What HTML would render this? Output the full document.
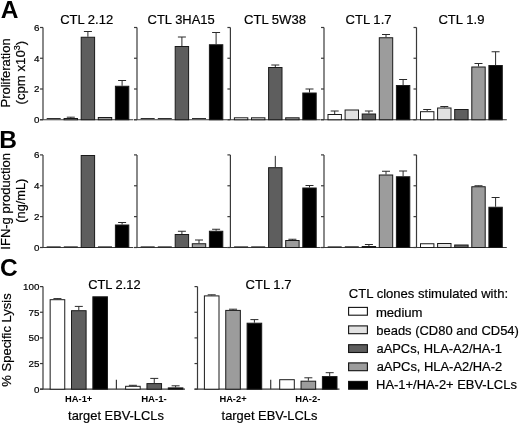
<!DOCTYPE html>
<html><head><meta charset="utf-8"><style>
html,body{margin:0;padding:0;background:#fff;}
svg{display:block;will-change:transform;}
text{font-family:"Liberation Sans", sans-serif;fill:#000;stroke:#000;stroke-width:0.2px;}
text.b{stroke:none;}
</style></head><body>
<svg width="520" height="424" viewBox="0 0 520 424">
<rect width="520" height="424" fill="#fff"/>
<line x1="43.00" y1="27.50" x2="43.00" y2="119.75" stroke="#3a3a3a" stroke-width="1.2"/>
<line x1="40.00" y1="119.75" x2="43.00" y2="119.75" stroke="#3a3a3a" stroke-width="1.2"/>
<line x1="40.00" y1="89.00" x2="43.00" y2="89.00" stroke="#3a3a3a" stroke-width="1.2"/>
<line x1="40.00" y1="58.25" x2="43.00" y2="58.25" stroke="#3a3a3a" stroke-width="1.2"/>
<line x1="40.00" y1="27.50" x2="43.00" y2="27.50" stroke="#3a3a3a" stroke-width="1.2"/>
<line x1="40.00" y1="119.75" x2="133.30" y2="119.75" stroke="#3a3a3a" stroke-width="1.2"/>
<line x1="46.70" y1="118.60" x2="60.70" y2="118.60" stroke="#1a1a1a" stroke-width="1.0"/>
<line x1="70.80" y1="118.00" x2="70.80" y2="117.20" stroke="#2a2a2a" stroke-width="1"/>
<line x1="66.80" y1="117.20" x2="74.80" y2="117.20" stroke="#2a2a2a" stroke-width="1.0"/>
<rect x="64.10" y="118.50" width="13.40" height="1.25" fill="#e2e2e2" stroke="#1a1a1a" stroke-width="1.0"/>
<line x1="87.90" y1="36.75" x2="87.90" y2="31.50" stroke="#2a2a2a" stroke-width="1"/>
<line x1="83.90" y1="31.50" x2="91.90" y2="31.50" stroke="#2a2a2a" stroke-width="1.0"/>
<rect x="81.20" y="37.25" width="13.40" height="82.50" fill="#5e5e5e" stroke="#1a1a1a" stroke-width="1.0"/>
<rect x="98.30" y="117.50" width="13.40" height="2.25" fill="#9c9c9c" stroke="#1a1a1a" stroke-width="1.0"/>
<line x1="122.10" y1="85.75" x2="122.10" y2="80.50" stroke="#2a2a2a" stroke-width="1"/>
<line x1="118.10" y1="80.50" x2="126.10" y2="80.50" stroke="#2a2a2a" stroke-width="1.0"/>
<rect x="115.40" y="86.25" width="13.40" height="33.50" fill="#000000" stroke="#1a1a1a" stroke-width="1.0"/>
<text x="39.40" y="123.15" font-size="9.8" text-anchor="end">0</text>
<text x="39.40" y="92.40" font-size="9.8" text-anchor="end">2</text>
<text x="39.40" y="61.65" font-size="9.8" text-anchor="end">4</text>
<text x="39.40" y="30.90" font-size="9.8" text-anchor="end">6</text>
<line x1="137.00" y1="27.50" x2="137.00" y2="119.75" stroke="#3a3a3a" stroke-width="1.2"/>
<line x1="134.00" y1="119.75" x2="137.00" y2="119.75" stroke="#3a3a3a" stroke-width="1.2"/>
<line x1="134.00" y1="89.00" x2="137.00" y2="89.00" stroke="#3a3a3a" stroke-width="1.2"/>
<line x1="134.00" y1="58.25" x2="137.00" y2="58.25" stroke="#3a3a3a" stroke-width="1.2"/>
<line x1="134.00" y1="27.50" x2="137.00" y2="27.50" stroke="#3a3a3a" stroke-width="1.2"/>
<line x1="134.00" y1="119.75" x2="227.30" y2="119.75" stroke="#3a3a3a" stroke-width="1.2"/>
<line x1="140.70" y1="118.60" x2="154.70" y2="118.60" stroke="#1a1a1a" stroke-width="1.0"/>
<line x1="157.80" y1="118.60" x2="171.80" y2="118.60" stroke="#1a1a1a" stroke-width="1.0"/>
<line x1="181.90" y1="46.00" x2="181.90" y2="37.00" stroke="#2a2a2a" stroke-width="1"/>
<line x1="177.90" y1="37.00" x2="185.90" y2="37.00" stroke="#2a2a2a" stroke-width="1.0"/>
<rect x="175.20" y="46.50" width="13.40" height="73.25" fill="#5e5e5e" stroke="#1a1a1a" stroke-width="1.0"/>
<line x1="192.00" y1="118.60" x2="206.00" y2="118.60" stroke="#1a1a1a" stroke-width="1.0"/>
<line x1="216.10" y1="44.25" x2="216.10" y2="32.50" stroke="#2a2a2a" stroke-width="1"/>
<line x1="212.10" y1="32.50" x2="220.10" y2="32.50" stroke="#2a2a2a" stroke-width="1.0"/>
<rect x="209.40" y="44.75" width="13.40" height="75.00" fill="#000000" stroke="#1a1a1a" stroke-width="1.0"/>
<line x1="230.40" y1="27.50" x2="230.40" y2="119.75" stroke="#3a3a3a" stroke-width="1.2"/>
<line x1="227.40" y1="119.75" x2="230.40" y2="119.75" stroke="#3a3a3a" stroke-width="1.2"/>
<line x1="227.40" y1="89.00" x2="230.40" y2="89.00" stroke="#3a3a3a" stroke-width="1.2"/>
<line x1="227.40" y1="58.25" x2="230.40" y2="58.25" stroke="#3a3a3a" stroke-width="1.2"/>
<line x1="227.40" y1="27.50" x2="230.40" y2="27.50" stroke="#3a3a3a" stroke-width="1.2"/>
<line x1="227.40" y1="119.75" x2="320.70" y2="119.75" stroke="#3a3a3a" stroke-width="1.2"/>
<rect x="234.40" y="117.80" width="13.40" height="1.95" fill="#ffffff" stroke="#1a1a1a" stroke-width="1.0"/>
<rect x="251.50" y="117.80" width="13.40" height="1.95" fill="#e2e2e2" stroke="#1a1a1a" stroke-width="1.0"/>
<line x1="275.30" y1="67.00" x2="275.30" y2="65.00" stroke="#2a2a2a" stroke-width="1"/>
<line x1="271.30" y1="65.00" x2="279.30" y2="65.00" stroke="#2a2a2a" stroke-width="1.0"/>
<rect x="268.60" y="67.50" width="13.40" height="52.25" fill="#5e5e5e" stroke="#1a1a1a" stroke-width="1.0"/>
<rect x="285.70" y="117.80" width="13.40" height="1.95" fill="#9c9c9c" stroke="#1a1a1a" stroke-width="1.0"/>
<line x1="309.50" y1="92.50" x2="309.50" y2="89.00" stroke="#2a2a2a" stroke-width="1"/>
<line x1="305.50" y1="89.00" x2="313.50" y2="89.00" stroke="#2a2a2a" stroke-width="1.0"/>
<rect x="302.80" y="93.00" width="13.40" height="26.75" fill="#000000" stroke="#1a1a1a" stroke-width="1.0"/>
<line x1="324.00" y1="27.50" x2="324.00" y2="119.75" stroke="#3a3a3a" stroke-width="1.2"/>
<line x1="321.00" y1="119.75" x2="324.00" y2="119.75" stroke="#3a3a3a" stroke-width="1.2"/>
<line x1="321.00" y1="89.00" x2="324.00" y2="89.00" stroke="#3a3a3a" stroke-width="1.2"/>
<line x1="321.00" y1="58.25" x2="324.00" y2="58.25" stroke="#3a3a3a" stroke-width="1.2"/>
<line x1="321.00" y1="27.50" x2="324.00" y2="27.50" stroke="#3a3a3a" stroke-width="1.2"/>
<line x1="321.00" y1="119.75" x2="414.30" y2="119.75" stroke="#3a3a3a" stroke-width="1.2"/>
<line x1="334.70" y1="114.00" x2="334.70" y2="111.00" stroke="#2a2a2a" stroke-width="1"/>
<line x1="330.70" y1="111.00" x2="338.70" y2="111.00" stroke="#2a2a2a" stroke-width="1.0"/>
<rect x="328.00" y="114.50" width="13.40" height="5.25" fill="#ffffff" stroke="#1a1a1a" stroke-width="1.0"/>
<rect x="345.10" y="110.00" width="13.40" height="9.75" fill="#e2e2e2" stroke="#1a1a1a" stroke-width="1.0"/>
<line x1="368.90" y1="113.50" x2="368.90" y2="111.00" stroke="#2a2a2a" stroke-width="1"/>
<line x1="364.90" y1="111.00" x2="372.90" y2="111.00" stroke="#2a2a2a" stroke-width="1.0"/>
<rect x="362.20" y="114.00" width="13.40" height="5.75" fill="#5e5e5e" stroke="#1a1a1a" stroke-width="1.0"/>
<line x1="386.00" y1="37.25" x2="386.00" y2="34.50" stroke="#2a2a2a" stroke-width="1"/>
<line x1="382.00" y1="34.50" x2="390.00" y2="34.50" stroke="#2a2a2a" stroke-width="1.0"/>
<rect x="379.30" y="37.75" width="13.40" height="82.00" fill="#9c9c9c" stroke="#1a1a1a" stroke-width="1.0"/>
<line x1="403.10" y1="85.00" x2="403.10" y2="79.50" stroke="#2a2a2a" stroke-width="1"/>
<line x1="399.10" y1="79.50" x2="407.10" y2="79.50" stroke="#2a2a2a" stroke-width="1.0"/>
<rect x="396.40" y="85.50" width="13.40" height="34.25" fill="#000000" stroke="#1a1a1a" stroke-width="1.0"/>
<line x1="416.50" y1="27.50" x2="416.50" y2="119.75" stroke="#3a3a3a" stroke-width="1.2"/>
<line x1="413.50" y1="119.75" x2="416.50" y2="119.75" stroke="#3a3a3a" stroke-width="1.2"/>
<line x1="413.50" y1="89.00" x2="416.50" y2="89.00" stroke="#3a3a3a" stroke-width="1.2"/>
<line x1="413.50" y1="58.25" x2="416.50" y2="58.25" stroke="#3a3a3a" stroke-width="1.2"/>
<line x1="413.50" y1="27.50" x2="416.50" y2="27.50" stroke="#3a3a3a" stroke-width="1.2"/>
<line x1="413.50" y1="119.75" x2="506.80" y2="119.75" stroke="#3a3a3a" stroke-width="1.2"/>
<line x1="427.20" y1="111.20" x2="427.20" y2="109.50" stroke="#2a2a2a" stroke-width="1"/>
<line x1="423.20" y1="109.50" x2="431.20" y2="109.50" stroke="#2a2a2a" stroke-width="1.0"/>
<rect x="420.50" y="111.70" width="13.40" height="8.05" fill="#ffffff" stroke="#1a1a1a" stroke-width="1.0"/>
<line x1="444.30" y1="107.50" x2="444.30" y2="106.50" stroke="#2a2a2a" stroke-width="1"/>
<line x1="440.30" y1="106.50" x2="448.30" y2="106.50" stroke="#2a2a2a" stroke-width="1.0"/>
<rect x="437.60" y="108.00" width="13.40" height="11.75" fill="#e2e2e2" stroke="#1a1a1a" stroke-width="1.0"/>
<rect x="454.70" y="109.50" width="13.40" height="10.25" fill="#5e5e5e" stroke="#1a1a1a" stroke-width="1.0"/>
<line x1="478.50" y1="66.50" x2="478.50" y2="63.50" stroke="#2a2a2a" stroke-width="1"/>
<line x1="474.50" y1="63.50" x2="482.50" y2="63.50" stroke="#2a2a2a" stroke-width="1.0"/>
<rect x="471.80" y="67.00" width="13.40" height="52.75" fill="#9c9c9c" stroke="#1a1a1a" stroke-width="1.0"/>
<line x1="495.60" y1="65.00" x2="495.60" y2="51.75" stroke="#2a2a2a" stroke-width="1"/>
<line x1="491.60" y1="51.75" x2="499.60" y2="51.75" stroke="#2a2a2a" stroke-width="1.0"/>
<rect x="488.90" y="65.50" width="13.40" height="54.25" fill="#000000" stroke="#1a1a1a" stroke-width="1.0"/>
<line x1="43.00" y1="154.90" x2="43.00" y2="247.50" stroke="#3a3a3a" stroke-width="1.2"/>
<line x1="40.00" y1="247.50" x2="43.00" y2="247.50" stroke="#3a3a3a" stroke-width="1.2"/>
<line x1="40.00" y1="216.63" x2="43.00" y2="216.63" stroke="#3a3a3a" stroke-width="1.2"/>
<line x1="40.00" y1="185.77" x2="43.00" y2="185.77" stroke="#3a3a3a" stroke-width="1.2"/>
<line x1="40.00" y1="154.90" x2="43.00" y2="154.90" stroke="#3a3a3a" stroke-width="1.2"/>
<line x1="40.00" y1="247.50" x2="133.30" y2="247.50" stroke="#3a3a3a" stroke-width="1.2"/>
<line x1="46.70" y1="246.90" x2="60.70" y2="246.90" stroke="#1a1a1a" stroke-width="1.0"/>
<line x1="63.80" y1="246.90" x2="77.80" y2="246.90" stroke="#1a1a1a" stroke-width="1.0"/>
<rect x="81.20" y="155.50" width="13.40" height="92.00" fill="#5e5e5e" stroke="#1a1a1a" stroke-width="1.0"/>
<line x1="98.00" y1="246.90" x2="112.00" y2="246.90" stroke="#1a1a1a" stroke-width="1.0"/>
<line x1="122.10" y1="224.50" x2="122.10" y2="222.50" stroke="#2a2a2a" stroke-width="1"/>
<line x1="118.10" y1="222.50" x2="126.10" y2="222.50" stroke="#2a2a2a" stroke-width="1.0"/>
<rect x="115.40" y="225.00" width="13.40" height="22.50" fill="#000000" stroke="#1a1a1a" stroke-width="1.0"/>
<text x="39.40" y="250.90" font-size="9.8" text-anchor="end">0</text>
<text x="39.40" y="220.03" font-size="9.8" text-anchor="end">2</text>
<text x="39.40" y="189.17" font-size="9.8" text-anchor="end">4</text>
<text x="39.40" y="158.30" font-size="9.8" text-anchor="end">6</text>
<line x1="137.00" y1="154.90" x2="137.00" y2="247.50" stroke="#3a3a3a" stroke-width="1.2"/>
<line x1="134.00" y1="247.50" x2="137.00" y2="247.50" stroke="#3a3a3a" stroke-width="1.2"/>
<line x1="134.00" y1="216.63" x2="137.00" y2="216.63" stroke="#3a3a3a" stroke-width="1.2"/>
<line x1="134.00" y1="185.77" x2="137.00" y2="185.77" stroke="#3a3a3a" stroke-width="1.2"/>
<line x1="134.00" y1="154.90" x2="137.00" y2="154.90" stroke="#3a3a3a" stroke-width="1.2"/>
<line x1="134.00" y1="247.50" x2="227.30" y2="247.50" stroke="#3a3a3a" stroke-width="1.2"/>
<line x1="140.70" y1="246.90" x2="154.70" y2="246.90" stroke="#1a1a1a" stroke-width="1.0"/>
<line x1="157.80" y1="246.90" x2="171.80" y2="246.90" stroke="#1a1a1a" stroke-width="1.0"/>
<line x1="181.90" y1="234.00" x2="181.90" y2="231.25" stroke="#2a2a2a" stroke-width="1"/>
<line x1="177.90" y1="231.25" x2="185.90" y2="231.25" stroke="#2a2a2a" stroke-width="1.0"/>
<rect x="175.20" y="234.50" width="13.40" height="13.00" fill="#5e5e5e" stroke="#1a1a1a" stroke-width="1.0"/>
<line x1="199.00" y1="243.25" x2="199.00" y2="240.00" stroke="#2a2a2a" stroke-width="1"/>
<line x1="195.00" y1="240.00" x2="203.00" y2="240.00" stroke="#2a2a2a" stroke-width="1.0"/>
<rect x="192.30" y="243.75" width="13.40" height="3.75" fill="#9c9c9c" stroke="#1a1a1a" stroke-width="1.0"/>
<line x1="216.10" y1="230.75" x2="216.10" y2="229.25" stroke="#2a2a2a" stroke-width="1"/>
<line x1="212.10" y1="229.25" x2="220.10" y2="229.25" stroke="#2a2a2a" stroke-width="1.0"/>
<rect x="209.40" y="231.25" width="13.40" height="16.25" fill="#000000" stroke="#1a1a1a" stroke-width="1.0"/>
<line x1="230.40" y1="154.90" x2="230.40" y2="247.50" stroke="#3a3a3a" stroke-width="1.2"/>
<line x1="227.40" y1="247.50" x2="230.40" y2="247.50" stroke="#3a3a3a" stroke-width="1.2"/>
<line x1="227.40" y1="216.63" x2="230.40" y2="216.63" stroke="#3a3a3a" stroke-width="1.2"/>
<line x1="227.40" y1="185.77" x2="230.40" y2="185.77" stroke="#3a3a3a" stroke-width="1.2"/>
<line x1="227.40" y1="154.90" x2="230.40" y2="154.90" stroke="#3a3a3a" stroke-width="1.2"/>
<line x1="227.40" y1="247.50" x2="320.70" y2="247.50" stroke="#3a3a3a" stroke-width="1.2"/>
<line x1="234.10" y1="246.90" x2="248.10" y2="246.90" stroke="#1a1a1a" stroke-width="1.0"/>
<line x1="251.20" y1="246.90" x2="265.20" y2="246.90" stroke="#1a1a1a" stroke-width="1.0"/>
<line x1="275.30" y1="167.20" x2="275.30" y2="155.90" stroke="#2a2a2a" stroke-width="1"/>
<rect x="268.60" y="167.70" width="13.40" height="79.80" fill="#5e5e5e" stroke="#1a1a1a" stroke-width="1.0"/>
<line x1="292.40" y1="240.00" x2="292.40" y2="239.25" stroke="#2a2a2a" stroke-width="1"/>
<line x1="288.40" y1="239.25" x2="296.40" y2="239.25" stroke="#2a2a2a" stroke-width="1.0"/>
<rect x="285.70" y="240.50" width="13.40" height="7.00" fill="#9c9c9c" stroke="#1a1a1a" stroke-width="1.0"/>
<line x1="309.50" y1="187.50" x2="309.50" y2="185.50" stroke="#2a2a2a" stroke-width="1"/>
<line x1="305.50" y1="185.50" x2="313.50" y2="185.50" stroke="#2a2a2a" stroke-width="1.0"/>
<rect x="302.80" y="188.00" width="13.40" height="59.50" fill="#000000" stroke="#1a1a1a" stroke-width="1.0"/>
<line x1="324.00" y1="154.90" x2="324.00" y2="247.50" stroke="#3a3a3a" stroke-width="1.2"/>
<line x1="321.00" y1="247.50" x2="324.00" y2="247.50" stroke="#3a3a3a" stroke-width="1.2"/>
<line x1="321.00" y1="216.63" x2="324.00" y2="216.63" stroke="#3a3a3a" stroke-width="1.2"/>
<line x1="321.00" y1="185.77" x2="324.00" y2="185.77" stroke="#3a3a3a" stroke-width="1.2"/>
<line x1="321.00" y1="154.90" x2="324.00" y2="154.90" stroke="#3a3a3a" stroke-width="1.2"/>
<line x1="321.00" y1="247.50" x2="414.30" y2="247.50" stroke="#3a3a3a" stroke-width="1.2"/>
<line x1="327.70" y1="246.90" x2="341.70" y2="246.90" stroke="#1a1a1a" stroke-width="1.0"/>
<line x1="344.80" y1="246.80" x2="358.80" y2="246.80" stroke="#1a1a1a" stroke-width="1.0"/>
<line x1="368.90" y1="246.00" x2="368.90" y2="244.50" stroke="#2a2a2a" stroke-width="1"/>
<line x1="364.90" y1="244.50" x2="372.90" y2="244.50" stroke="#2a2a2a" stroke-width="1.0"/>
<rect x="362.20" y="246.50" width="13.40" height="1.00" fill="#5e5e5e" stroke="#1a1a1a" stroke-width="1.0"/>
<line x1="386.00" y1="174.50" x2="386.00" y2="171.25" stroke="#2a2a2a" stroke-width="1"/>
<line x1="382.00" y1="171.25" x2="390.00" y2="171.25" stroke="#2a2a2a" stroke-width="1.0"/>
<rect x="379.30" y="175.00" width="13.40" height="72.50" fill="#9c9c9c" stroke="#1a1a1a" stroke-width="1.0"/>
<line x1="403.10" y1="176.25" x2="403.10" y2="171.00" stroke="#2a2a2a" stroke-width="1"/>
<line x1="399.10" y1="171.00" x2="407.10" y2="171.00" stroke="#2a2a2a" stroke-width="1.0"/>
<rect x="396.40" y="176.75" width="13.40" height="70.75" fill="#000000" stroke="#1a1a1a" stroke-width="1.0"/>
<line x1="416.50" y1="154.90" x2="416.50" y2="247.50" stroke="#3a3a3a" stroke-width="1.2"/>
<line x1="413.50" y1="247.50" x2="416.50" y2="247.50" stroke="#3a3a3a" stroke-width="1.2"/>
<line x1="413.50" y1="216.63" x2="416.50" y2="216.63" stroke="#3a3a3a" stroke-width="1.2"/>
<line x1="413.50" y1="185.77" x2="416.50" y2="185.77" stroke="#3a3a3a" stroke-width="1.2"/>
<line x1="413.50" y1="154.90" x2="416.50" y2="154.90" stroke="#3a3a3a" stroke-width="1.2"/>
<line x1="413.50" y1="247.50" x2="506.80" y2="247.50" stroke="#3a3a3a" stroke-width="1.2"/>
<rect x="420.50" y="243.75" width="13.40" height="3.75" fill="#ffffff" stroke="#1a1a1a" stroke-width="1.0"/>
<rect x="437.60" y="243.50" width="13.40" height="4.00" fill="#e2e2e2" stroke="#1a1a1a" stroke-width="1.0"/>
<rect x="454.70" y="245.00" width="13.40" height="2.50" fill="#5e5e5e" stroke="#1a1a1a" stroke-width="1.0"/>
<line x1="478.50" y1="186.25" x2="478.50" y2="185.75" stroke="#2a2a2a" stroke-width="1"/>
<line x1="474.50" y1="185.75" x2="482.50" y2="185.75" stroke="#2a2a2a" stroke-width="1.0"/>
<rect x="471.80" y="186.75" width="13.40" height="60.75" fill="#9c9c9c" stroke="#1a1a1a" stroke-width="1.0"/>
<line x1="495.60" y1="206.75" x2="495.60" y2="197.50" stroke="#2a2a2a" stroke-width="1"/>
<line x1="491.60" y1="197.50" x2="499.60" y2="197.50" stroke="#2a2a2a" stroke-width="1.0"/>
<rect x="488.90" y="207.25" width="13.40" height="40.25" fill="#000000" stroke="#1a1a1a" stroke-width="1.0"/>
<text x="60.15" y="24.00" font-size="13.0">CTL 2.12</text>
<text x="147.62" y="24.05" font-size="12.94">CTL 3HA15</text>
<text x="243.98" y="24.15" font-size="13.09">CTL 5W38</text>
<text x="345.55" y="24.00" font-size="13.07">CTL 1.7</text>
<text x="438.45" y="24.00" font-size="13.07">CTL 1.9</text>
<text x="9.80" y="107.52" font-size="12.97" transform="rotate(-90 9.80 107.52)">Proliferation</text>
<text x="24.8" y="104.5" font-size="13.2" transform="rotate(-90 24.8 104.5)">(cpm x10<tspan dy="-5" font-size="8.98">3</tspan><tspan dy="5">)</tspan></text>
<text x="10.30" y="249.65" font-size="12.99" transform="rotate(-90 10.30 249.65)">IFN-g production</text>
<text x="25.00" y="222.70" font-size="12.79" transform="rotate(-90 25.00 222.70)">(ng/mL)</text>
<text x="11.10" y="386.62" font-size="12.99" transform="rotate(-90 11.10 386.62)">% Specific Lysis</text>
<text x="0.75" y="18.00" font-size="24.5" font-weight="bold" class="b">A</text>
<text x="-0.80" y="148.10" font-size="24.5" font-weight="bold" class="b">B</text>
<text x="-0.05" y="276.05" font-size="24.5" font-weight="bold" class="b">C</text>
<line x1="43.00" y1="286.60" x2="43.00" y2="389.20" stroke="#3a3a3a" stroke-width="1.2"/>
<line x1="40.00" y1="389.20" x2="43.00" y2="389.20" stroke="#3a3a3a" stroke-width="1.2"/>
<line x1="40.00" y1="363.55" x2="43.00" y2="363.55" stroke="#3a3a3a" stroke-width="1.2"/>
<line x1="40.00" y1="337.90" x2="43.00" y2="337.90" stroke="#3a3a3a" stroke-width="1.2"/>
<line x1="40.00" y1="312.25" x2="43.00" y2="312.25" stroke="#3a3a3a" stroke-width="1.2"/>
<line x1="40.00" y1="286.60" x2="43.00" y2="286.60" stroke="#3a3a3a" stroke-width="1.2"/>
<line x1="40.00" y1="389.20" x2="185.00" y2="389.20" stroke="#3a3a3a" stroke-width="1.2"/>
<line x1="116.40" y1="379.70" x2="116.40" y2="389.20" stroke="#3a3a3a" stroke-width="1.2"/>
<line x1="57.45" y1="299.20" x2="57.45" y2="298.60" stroke="#2a2a2a" stroke-width="1"/>
<line x1="53.45" y1="298.60" x2="61.45" y2="298.60" stroke="#2a2a2a" stroke-width="1.0"/>
<rect x="50.15" y="299.70" width="14.60" height="89.50" fill="#ffffff" stroke="#1a1a1a" stroke-width="1.0"/>
<line x1="78.80" y1="310.20" x2="78.80" y2="306.40" stroke="#2a2a2a" stroke-width="1"/>
<line x1="74.80" y1="306.40" x2="82.80" y2="306.40" stroke="#2a2a2a" stroke-width="1.0"/>
<rect x="71.50" y="310.70" width="14.60" height="78.50" fill="#5e5e5e" stroke="#1a1a1a" stroke-width="1.0"/>
<rect x="92.85" y="296.80" width="14.60" height="92.40" fill="#000000" stroke="#1a1a1a" stroke-width="1.0"/>
<line x1="132.90" y1="385.80" x2="132.90" y2="385.30" stroke="#2a2a2a" stroke-width="1"/>
<line x1="128.90" y1="385.30" x2="136.90" y2="385.30" stroke="#2a2a2a" stroke-width="1.0"/>
<rect x="125.60" y="386.30" width="14.60" height="2.90" fill="#ffffff" stroke="#1a1a1a" stroke-width="1.0"/>
<line x1="154.25" y1="383.10" x2="154.25" y2="378.40" stroke="#2a2a2a" stroke-width="1"/>
<line x1="150.25" y1="378.40" x2="158.25" y2="378.40" stroke="#2a2a2a" stroke-width="1.0"/>
<rect x="146.95" y="383.60" width="14.60" height="5.60" fill="#5e5e5e" stroke="#1a1a1a" stroke-width="1.0"/>
<line x1="175.60" y1="387.40" x2="175.60" y2="385.80" stroke="#2a2a2a" stroke-width="1"/>
<line x1="171.60" y1="385.80" x2="179.60" y2="385.80" stroke="#2a2a2a" stroke-width="1.0"/>
<rect x="168.30" y="387.90" width="14.60" height="1.30" fill="#000000" stroke="#1a1a1a" stroke-width="1.0"/>
<text x="39.40" y="392.60" font-size="9.8" text-anchor="end">0</text>
<text x="39.40" y="366.95" font-size="9.8" text-anchor="end">25</text>
<text x="39.40" y="341.30" font-size="9.8" text-anchor="end">50</text>
<text x="39.40" y="315.65" font-size="9.8" text-anchor="end">75</text>
<text x="39.40" y="290.00" font-size="9.8" text-anchor="end">100</text>
<line x1="197.50" y1="286.60" x2="197.50" y2="389.20" stroke="#3a3a3a" stroke-width="1.2"/>
<line x1="194.50" y1="389.20" x2="197.50" y2="389.20" stroke="#3a3a3a" stroke-width="1.2"/>
<line x1="194.50" y1="363.55" x2="197.50" y2="363.55" stroke="#3a3a3a" stroke-width="1.2"/>
<line x1="194.50" y1="337.90" x2="197.50" y2="337.90" stroke="#3a3a3a" stroke-width="1.2"/>
<line x1="194.50" y1="312.25" x2="197.50" y2="312.25" stroke="#3a3a3a" stroke-width="1.2"/>
<line x1="194.50" y1="286.60" x2="197.50" y2="286.60" stroke="#3a3a3a" stroke-width="1.2"/>
<line x1="194.50" y1="389.20" x2="339.50" y2="389.20" stroke="#3a3a3a" stroke-width="1.2"/>
<line x1="270.70" y1="379.70" x2="270.70" y2="389.20" stroke="#3a3a3a" stroke-width="1.2"/>
<line x1="211.70" y1="295.40" x2="211.70" y2="294.80" stroke="#2a2a2a" stroke-width="1"/>
<line x1="207.70" y1="294.80" x2="215.70" y2="294.80" stroke="#2a2a2a" stroke-width="1.0"/>
<rect x="204.40" y="295.90" width="14.60" height="93.30" fill="#ffffff" stroke="#1a1a1a" stroke-width="1.0"/>
<line x1="233.05" y1="309.90" x2="233.05" y2="309.20" stroke="#2a2a2a" stroke-width="1"/>
<line x1="229.05" y1="309.20" x2="237.05" y2="309.20" stroke="#2a2a2a" stroke-width="1.0"/>
<rect x="225.75" y="310.40" width="14.60" height="78.80" fill="#9c9c9c" stroke="#1a1a1a" stroke-width="1.0"/>
<line x1="254.40" y1="322.70" x2="254.40" y2="319.60" stroke="#2a2a2a" stroke-width="1"/>
<line x1="250.40" y1="319.60" x2="258.40" y2="319.60" stroke="#2a2a2a" stroke-width="1.0"/>
<rect x="247.10" y="323.20" width="14.60" height="66.00" fill="#000000" stroke="#1a1a1a" stroke-width="1.0"/>
<rect x="279.70" y="379.70" width="14.60" height="9.50" fill="#ffffff" stroke="#1a1a1a" stroke-width="1.0"/>
<line x1="308.35" y1="380.70" x2="308.35" y2="377.80" stroke="#2a2a2a" stroke-width="1"/>
<line x1="304.35" y1="377.80" x2="312.35" y2="377.80" stroke="#2a2a2a" stroke-width="1.0"/>
<rect x="301.05" y="381.20" width="14.60" height="8.00" fill="#9c9c9c" stroke="#1a1a1a" stroke-width="1.0"/>
<line x1="329.70" y1="376.10" x2="329.70" y2="372.70" stroke="#2a2a2a" stroke-width="1"/>
<line x1="325.70" y1="372.70" x2="333.70" y2="372.70" stroke="#2a2a2a" stroke-width="1.0"/>
<rect x="322.40" y="376.60" width="14.60" height="12.60" fill="#000000" stroke="#1a1a1a" stroke-width="1.0"/>
<text x="88.28" y="289.45" font-size="12.84">CTL 2.12</text>
<text x="245.55" y="289.35" font-size="13.07">CTL 1.7</text>
<text x="65.10" y="401.80" font-size="9.33" font-weight="bold" class="b">HA-1+</text>
<text x="141.20" y="401.92" font-size="9.61" font-weight="bold" class="b">HA-1-</text>
<text x="219.40" y="401.85" font-size="9.33" font-weight="bold" class="b">HA-2+</text>
<text x="295.25" y="401.85" font-size="9.4" font-weight="bold" class="b">HA-2-</text>
<text x="68.10" y="419.98" font-size="12.86">target EBV-LCLs</text>
<text x="221.60" y="419.98" font-size="12.86">target EBV-LCLs</text>
<text x="348.82" y="297.60" font-size="13.07">CTL clones stimulated with:</text>
<rect x="348.60" y="307.40" width="18.80" height="7.80" fill="#ffffff" stroke="#111" stroke-width="1.1"/>
<text x="375.92" y="316.50" font-size="13.11">medium</text>
<rect x="348.60" y="325.90" width="18.80" height="7.80" fill="#e2e2e2" stroke="#111" stroke-width="1.1"/>
<text x="376.30" y="334.80" font-size="12.96">beads (CD80 and CD54)</text>
<rect x="348.60" y="344.70" width="18.80" height="7.80" fill="#5e5e5e" stroke="#111" stroke-width="1.1"/>
<text x="376.48" y="352.90" font-size="12.9">aAPCs, HLA-A2/HA-1</text>
<rect x="348.60" y="362.90" width="18.80" height="7.80" fill="#9c9c9c" stroke="#111" stroke-width="1.1"/>
<text x="376.68" y="371.00" font-size="12.92">aAPCs, HLA-A2/HA-2</text>
<rect x="348.60" y="381.40" width="18.80" height="7.80" fill="#000000" stroke="#111" stroke-width="1.1"/>
<text x="376.08" y="388.80" font-size="12.93">HA-1+/HA-2+ EBV-LCLs</text>
</svg>
</body></html>
